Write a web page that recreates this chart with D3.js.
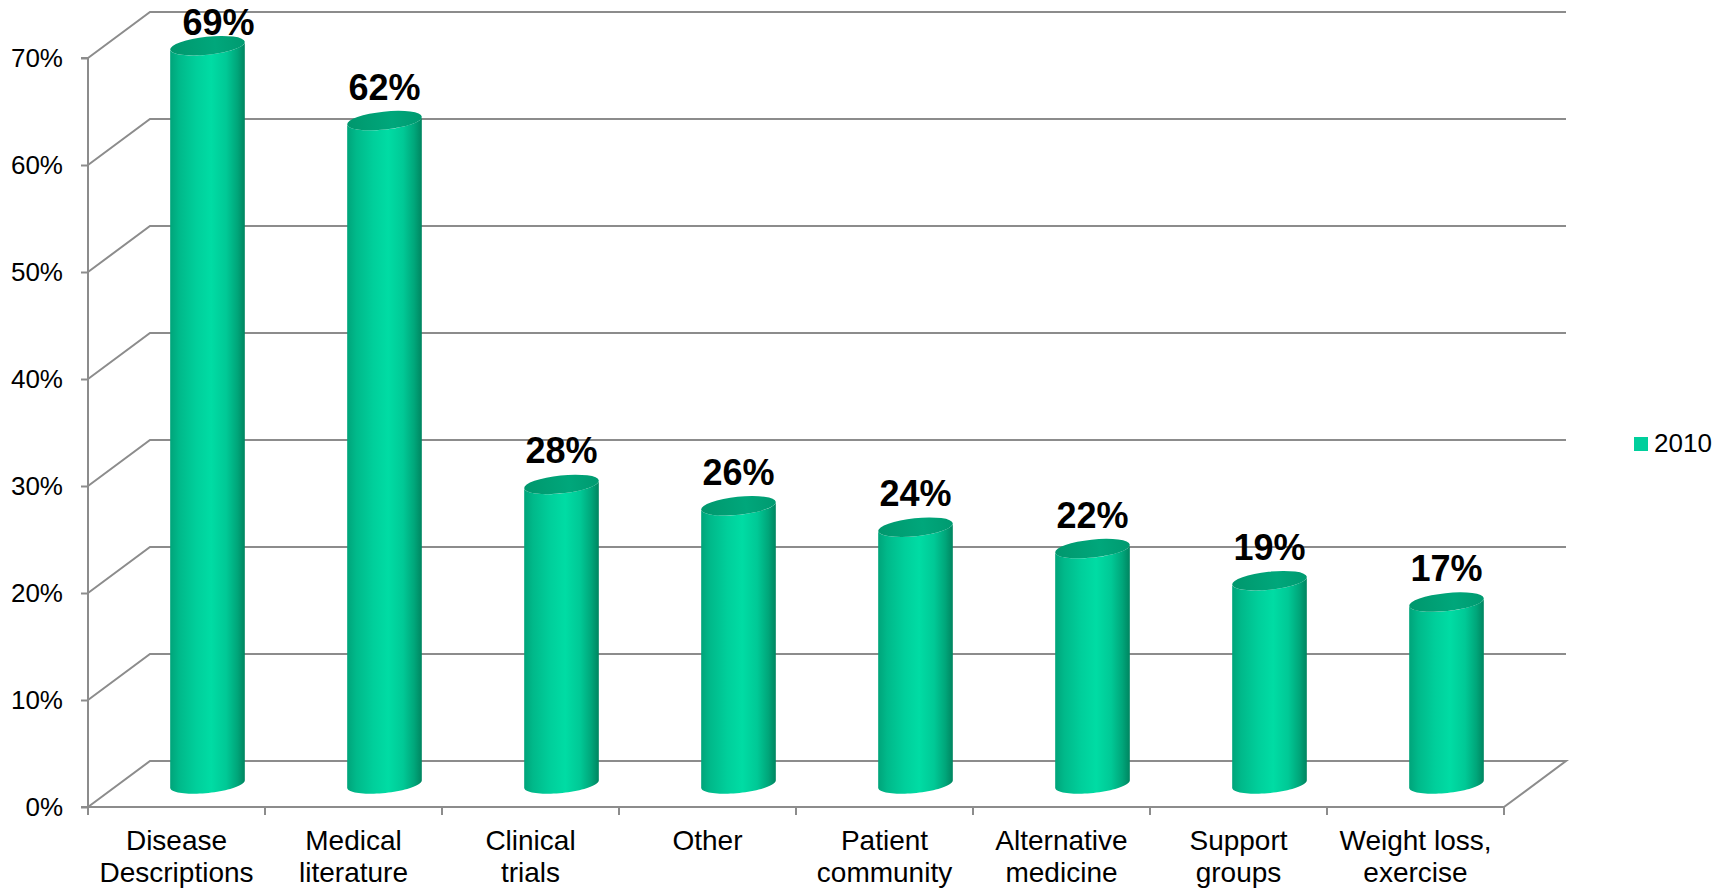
<!DOCTYPE html>
<html>
<head>
<meta charset="utf-8">
<script src="https://cdn.jsdelivr.net/npm/d3@7"></script>
<style>
  html, body { margin: 0; padding: 0; background: #ffffff; }
  svg { display: block; font-family: "Liberation Sans", Arial, sans-serif; }
</style>
</head>
<body>
<svg id="chart" width="1729" height="890"></svg>
<script>
// Share of respondents by type of health information sought (2010)
const categories = [
  "Disease\nDescriptions",
  "Medical\nliterature",
  "Clinical\ntrials",
  "Other",
  "Patient\ncommunity",
  "Alternative\nmedicine",
  "Support\ngroups",
  "Weight loss,\nexercise"
];
const values2010 = [0.69, 0.62, 0.28, 0.26, 0.24, 0.22, 0.19, 0.17];
const seriesName = "2010";
const yTicks = [0, 0.1, 0.2, 0.3, 0.4, 0.5, 0.6, 0.7];

const svg = d3.select("#chart");

// Front plane of the 3-D plot area and the oblique depth offset
const plot = { left: 88, right: 1504, bottom: 807, top: 58 };
const depth = { dx: 62, dy: -46 };
const gridColor = "#8c8c8c";

const x = d3.scaleBand().domain(categories).range([plot.left, plot.right]).padding(0);
const y = d3.scaleLinear().domain([0, 0.7]).range([plot.bottom, plot.top]);

// Gradients for the cylinders
const defs = svg.append("defs");
const sideGrad = defs.append("linearGradient").attr("id", "cylSide")
  .attr("x1", "0").attr("x2", "1").attr("y1", "0").attr("y2", "0");
[["0%", "#00a47a"], ["12%", "#00b98a"], ["35%", "#00cf9b"], ["55%", "#00dca4"],
 ["75%", "#00c996"], ["90%", "#00a67a"], ["100%", "#008560"]]
  .forEach(([o, c]) => sideGrad.append("stop").attr("offset", o).attr("stop-color", c));
const capGrad = defs.append("linearGradient").attr("id", "cylTop")
  .attr("x1", "0").attr("x2", "1").attr("y1", "0").attr("y2", "0");
[["0%", "#00976d"], ["60%", "#00a77b"], ["100%", "#009a70"]]
  .forEach(([o, c]) => capGrad.append("stop").attr("offset", o).attr("stop-color", c));

// Back wall gridlines with their left-side diagonals
const grid = svg.append("g").attr("fill", "none").attr("stroke", gridColor).attr("stroke-width", 2);
yTicks.forEach(t => {
  const yy = y(t);
  const pts = [[plot.left, yy], [plot.left + depth.dx, yy + depth.dy], [plot.right + depth.dx, yy + depth.dy]];
  if (t === 0) pts.push([plot.right, yy]);
  grid.append("path").attr("d", d3.line()(pts));
});

// Axes (front edges)
const yAxis = d3.axisLeft(y).tickValues(yTicks).tickFormat(d3.format(".0%")).tickSize(7).tickPadding(18);
const gy = svg.append("g").attr("transform", `translate(${plot.left},0)`).call(yAxis);
gy.select(".domain").attr("stroke", gridColor).attr("stroke-width", 2)
  .attr("d", `M-7,${plot.top}H0V${plot.bottom}H-7`);
gy.selectAll(".tick line").attr("stroke", gridColor).attr("stroke-width", 2);
gy.selectAll(".tick text").attr("font-size", 26).attr("fill", "#000")
  .attr("font-family", "'Liberation Sans', Arial, sans-serif");

const boundaries = categories.map(c => x(c)).concat([plot.right]);
const gx = svg.append("g");
gx.append("line").attr("x1", plot.left).attr("x2", plot.right)
  .attr("y1", plot.bottom).attr("y2", plot.bottom)
  .attr("stroke", gridColor).attr("stroke-width", 2);
gx.selectAll("line.tk").data(boundaries).join("line").attr("class", "tk")
  .attr("x1", d => d).attr("x2", d => d)
  .attr("y1", plot.bottom).attr("y2", plot.bottom + 8)
  .attr("stroke", gridColor).attr("stroke-width", 2);

const catLabels = gx.selectAll("text.cat").data(categories).join("text").attr("class", "cat")
  .attr("x", d => x(d) + x.bandwidth() / 2)
  .attr("y", plot.bottom + 43)
  .attr("text-anchor", "middle").attr("font-size", 28).attr("fill", "#000");
catLabels.each(function(d) {
  const t = d3.select(this);
  d.split("\n").forEach((line, i) => {
    t.append("tspan").attr("x", x(d) + x.bandwidth() / 2).attr("dy", i === 0 ? 0 : 31.5).text(line);
  });
});

// Cylinders sit halfway into the depth of the plot
const rx = x.bandwidth() * 0.212;
const ry = 9;
const theta = -6 * Math.PI / 180;
function ellipsePoint(cx, cy, t) {
  return [
    cx + rx * Math.cos(t) * Math.cos(theta) - ry * Math.sin(t) * Math.sin(theta),
    cy + rx * Math.cos(t) * Math.sin(theta) + ry * Math.sin(t) * Math.cos(theta)
  ];
}
const arcSteps = d3.range(0, 41).map(i => Math.PI * i / 40);

const bars = svg.append("g");
categories.forEach((c, i) => {
  const v = values2010[i];
  const cx = x(c) + x.bandwidth() / 2 + depth.dx / 2;
  const yBase = y(0) + depth.dy / 2;
  const yTop = y(v) + depth.dy / 2;

  // body: left side down, front half of base ellipse, right side up, front half of top ellipse back
  const bottomArc = arcSteps.slice().reverse().map(t => ellipsePoint(cx, yBase, t));
  const topArc = arcSteps.map(t => ellipsePoint(cx, yTop, t));
  const body = [ellipsePoint(cx, yTop, Math.PI)]
    .concat(bottomArc)
    .concat(topArc);
  bars.append("path").attr("d", d3.line()(body) + "Z").attr("fill", "url(#cylSide)");

  bars.append("ellipse")
    .attr("cx", cx).attr("cy", yTop).attr("rx", rx).attr("ry", ry)
    .attr("transform", `rotate(${theta * 180 / Math.PI},${cx},${yTop})`)
    .attr("fill", "url(#cylTop)");

  // value label above the cap, kept inside the drawing area at the top
  const labelY = Math.max(yTop - 21, 35);
  const labelX = labelY > yTop - 21 ? cx + 11 : cx;
  bars.append("text")
    .attr("x", labelX).attr("y", labelY)
    .attr("text-anchor", "middle").attr("font-size", 36).attr("font-weight", "bold")
    .attr("fill", "#000").text(d3.format(".0%")(v));
});

// Legend
const legend = svg.append("g").attr("transform", "translate(1634,437)");
legend.append("rect").attr("width", 14).attr("height", 14).attr("fill", "#00cf9c");
legend.append("text").attr("x", 20).attr("y", 15).attr("font-size", 26).attr("fill", "#000").text(seriesName);
</script>
</body>
</html>
